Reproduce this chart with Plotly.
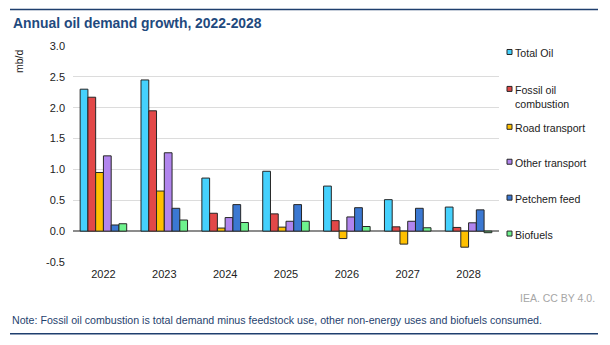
import plotly.graph_objects as go

# Annual oil demand growth by component (mb/d)
years = ["2022", "2023", "2024", "2025", "2026", "2027", "2028"]
total_oil = [2.30, 2.45, 0.86, 0.97, 0.73, 0.51, 0.39]
fossil_oil_combustion = [2.17, 1.95, 0.29, 0.28, 0.17, 0.07, 0.06]
road_transport = [0.95, 0.65, 0.05, 0.065, -0.12, -0.21, -0.26]
other_transport = [1.22, 1.27, 0.22, 0.16, 0.23, 0.16, 0.135]
petchem_feed = [0.10, 0.37, 0.43, 0.43, 0.38, 0.37, 0.345]
biofuels = [0.12, 0.18, 0.14, 0.16, 0.075, 0.055, -0.025]

series_names = ["Total Oil", "Fossil oil<br>combustion", "Road transport",
                "Other transport", "Petchem feed", "Biofuels"]
series_values = [total_oil, fossil_oil_combustion, road_transport,
                 other_transport, petchem_feed, biofuels]
series_colors = ["#45d1fd", "#e24848", "#ffc000", "#b185ee", "#3b78d2", "#6ef28d"]

y_tickvals = [-0.5, 0.0, 0.5, 1.0, 1.5, 2.0, 2.5, 3.0]
y_ticktext = ["-0.5", "0.0", "0.5", "1.0", "1.5", "2.0", "2.5", "3.0"]

W, H = 610, 345
L, R, T, B = 73, 499, 46, 262.5  # plot area in pixels


def px_x(px):
    return (px - L) / (R - L)


def px_y(py):
    return (B - py) / (B - T)


FONT = "Liberation Sans, Arial, sans-serif"
TITLE_BLUE = "#1f4a7e"

fig = go.Figure()
for name, vals, col in zip(series_names, series_values, series_colors):
    fig.add_trace(go.Bar(
        x=years, y=vals, name=name.replace("<br>", " "),
        marker=dict(color=col, line=dict(color="#262626", width=1)),
        showlegend=False,
    ))

# Legend drawn as small squares with labels to the right of the plot
legend_y = [52, 89, 127, 162, 198, 234]
annotations = []
shapes = []
for name, col, ly in zip(series_names, series_colors, legend_y):
    shapes.append(dict(
        type="rect", xref="paper", yref="paper",
        x0=px_x(507), x1=px_x(512), y0=px_y(ly + 2.5), y1=px_y(ly - 2.5),
        fillcolor=col, line=dict(color="#262626", width=1),
    ))
    annotations.append(dict(
        text=name, xref="paper", yref="paper",
        x=px_x(512.5), y=px_y(ly - 7), xanchor="left", yanchor="top",
        align="left", showarrow=False,
        font=dict(family=FONT, size=10.6, color="#222222"),
    ))

# Title, unit label, source and note
annotations += [
    dict(text="<b>Annual oil demand growth, 2022-2028</b>", xref="paper", yref="paper",
         x=px_x(11), y=px_y(22.5), xanchor="left", yanchor="middle", showarrow=False,
         font=dict(family=FONT, size=13.9, color=TITLE_BLUE)),
    dict(text="mb/d", xref="paper", yref="paper", textangle=-90,
         x=px_x(19), y=px_y(61), xanchor="center", yanchor="middle", showarrow=False,
         font=dict(family=FONT, size=10.5, color="#222222")),
    dict(text="IEA. CC BY 4.0.", xref="paper", yref="paper",
         x=px_x(597), y=px_y(298.5), xanchor="right", yanchor="middle", showarrow=False,
         font=dict(family=FONT, size=10.5, color="#a6a6a6")),
    dict(text="Note: Fossil oil combustion is total demand minus feedstock use, "
              "other non-energy uses and biofuels consumed.",
         xref="paper", yref="paper",
         x=px_x(10), y=px_y(321), xanchor="left", yanchor="middle", showarrow=False,
         font=dict(family=FONT, size=10.65, color="#1f3f6e")),
]

# Horizontal rules framing the chart
for ry in (9.5, 334.5):
    shapes.append(dict(type="line", xref="paper", yref="paper",
                       x0=px_x(10), x1=px_x(598), y0=px_y(ry), y1=px_y(ry),
                       line=dict(color="#1f3f6e", width=1.5)))

fig.update_layout(
    width=W, height=H,
    margin=dict(l=L, r=W - R, t=T, b=H - B, pad=0),
    paper_bgcolor="white", plot_bgcolor="white",
    barmode="group", bargap=0.235, bargroupgap=0,
    font=dict(family=FONT, size=11, color="#222222"),
    annotations=annotations, shapes=shapes,
    showlegend=False,
)
fig.update_xaxes(
    type="category", range=[-0.5, 6.5], showgrid=False, showline=False,
    ticks="outside", ticklen=2, tickcolor="rgba(0,0,0,0)",
    tickfont=dict(family=FONT, size=11, color="#222222"),
)
fig.update_yaxes(
    range=[-0.5, 3.0], tickvals=y_tickvals, ticktext=y_ticktext,
    showgrid=True, gridcolor="#dcdcdc", gridwidth=1,
    zeroline=True, zerolinecolor="#8c8c8c", zerolinewidth=1.5,
    showline=False, ticks="", ticklabelstandoff=7,
    tickfont=dict(family=FONT, size=11, color="#222222"),
)

fig.write_html("out.html")
